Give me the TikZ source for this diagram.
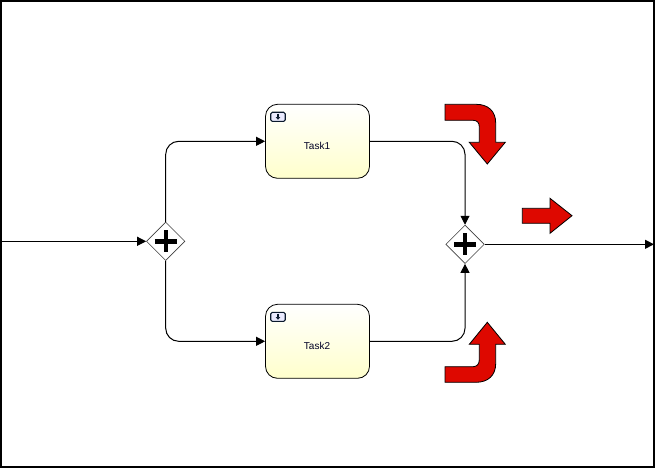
\documentclass[tikz,border=0pt]{standalone}
\usepackage{fontspec}
\setmainfont{Liberation Sans}
\usetikzlibrary{shapes.geometric,arrows.meta}
\definecolor{redarrow}{RGB}{222,8,0}
\definecolor{taskyellow}{RGB}{255,255,204}
\definecolor{iconblue}{RGB}{10,25,45}
\newcommand{\tasktext}[1]{\raisebox{-7.7pt}[0pt][0pt]{\kern-1pt #1}}
\tikzset{
  taskbox/.style={draw=black,line width=0.8pt,rounded corners=12pt,minimum width=104pt,minimum height=74pt,inner sep=0pt,top color=white,bottom color=taskyellow,middle color=white!50!taskyellow,font=\fontsize{10}{12}\selectfont,text=black!85!blue},
  gateway/.style={diamond,draw=black!75,line width=0.6pt,fill=white,minimum width=38.5pt,minimum height=38.5pt,inner sep=0pt},
  plusbar/.style={draw=black,line width=4.4pt},
  flow/.style={draw=black,line width=1pt,rounded corners=13pt,-{Triangle[length=9pt,width=9pt]}},
  bigarrow/.style={draw=black,line width=0.8pt,fill=redarrow,line join=miter},
  iconbox/.style={draw=iconblue,line width=1.1pt,rounded corners=1.5pt,fill=white!92!blue,minimum width=14.5pt,minimum height=9pt,inner sep=0pt},
  iconmark/.style={draw=iconblue,line width=1.3pt,-{Triangle[length=2.8pt,width=4.4pt]}},
  frameline/.style={draw=black,line width=2pt}
}
\begin{document}
\begin{tikzpicture}[x=1pt,y=-1pt]
\useasboundingbox (0,0) rectangle (655,468);
\fill[white] (0,0) rectangle (655,468);
\node[taskbox] (task1) at (317.5,141.3) {\tasktext{Task1}};
\node[taskbox] (task2) at (317.5,341.3) {\tasktext{Task2}};
\node[gateway] (gw1) at (165.7,241.3) {};
\node[gateway] (gw2) at (465,244.3) {};
\coordinate (in) at (0,241.3);
\coordinate (out) at (654,244.3);
% connectors
\draw[flow] (in) -- (gw1.west);
\draw[flow] (gw1.north) |- (task1.west);
\draw[flow] (gw1.south) |- (task2.west);
\draw[flow] (task1.east) -| (gw2.north);
\draw[flow] (task2.east) -| (gw2.south);
\draw[flow] (gw2.east) -- (out);
% gateway marks
\draw[plusbar] (154.7,241.3) -- (176.7,241.3) (165.7,230.3) -- (165.7,252.3);
\draw[plusbar] (454,244.3) -- (476,244.3) (465,233.3) -- (465,255.3);
% task icons
\node[iconbox] (icon1) at (278,116.8) {};
\draw[iconmark] (278,113.6) -- (278,119.8);
\node[iconbox] (icon2) at (278,316.8) {};
\draw[iconmark] (278,313.6) -- (278,319.8);
% red arrows
\draw[bigarrow] (445,104.3) -- (476,104.3) .. controls (488,104.3) and (495.7,111) .. (495.7,123) -- (495.7,142.3) -- (505.3,142.3) -- (487.3,164) -- (469.3,142.3) -- (479.3,142.3) -- (479.3,127) .. controls (479.3,122.5) and (477,120.3) .. (473,120.3) -- (445,120.3) -- cycle;
\draw[bigarrow] (522.3,208.3) -- (550,208.3) -- (550,198.3) -- (572,215.7) -- (550,233.3) -- (550,223.3) -- (522.3,223.3) -- cycle;
\draw[bigarrow] (445,382.3) -- (476,382.3) .. controls (488,382.3) and (495.7,375.5) .. (495.7,363.5) -- (495.7,344.3) -- (505.3,344.3) -- (487.3,322.3) -- (469.3,344.3) -- (479.3,344.3) -- (479.3,359.5) .. controls (479.3,364) and (477,366.7) .. (473,366.7) -- (445,366.7) -- cycle;
% frame
\draw[frameline] (1,1) rectangle (654,467);
\end{tikzpicture}
\end{document}
